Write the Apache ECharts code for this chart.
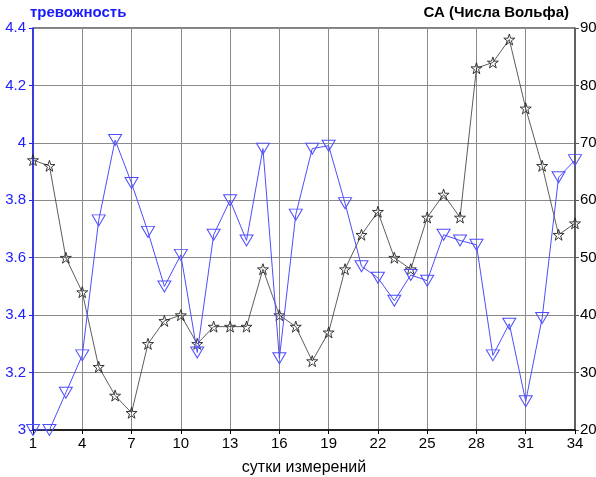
<!DOCTYPE html>
<html>
<head>
<meta charset="utf-8">
<script src="https://cdn.jsdelivr.net/npm/echarts@6/dist/echarts.min.js"></script>
<style>
  html, body { margin: 0; padding: 0; background: #fff; }
  #chart { width: 596px; height: 477px; }
</style>
</head>
<body>
<div id="chart"></div>
<script>
// Days of measurement
const days = [1, 2, 3, 4, 5, 6, 7, 8, 9, 10, 11, 12, 13, 14, 15, 16, 17,
              18, 19, 20, 21, 22, 23, 24, 25, 26, 27, 28, 29, 30, 31, 32, 33, 34];

// Anxiety level (left axis)
const anxiety = [3.00, 3.00, 3.13, 3.26, 3.73, 4.01, 3.86, 3.69, 3.50, 3.61,
                 3.27, 3.68, 3.80, 3.66, 3.98, 3.25, 3.75, 3.98, 3.99, 3.79,
                 3.57, 3.53, 3.45, 3.54, 3.52, 3.68, 3.66, 3.645, 3.26, 3.37,
                 3.10, 3.39, 3.88, 3.94];

// Solar activity, Wolf numbers (right axis)
const wolf = [67, 66, 50, 44, 31, 26, 23, 35, 39, 40, 35, 38, 38, 38, 48, 40, 38,
              32, 37, 48, 54, 58, 50, 48, 57, 61, 57, 83, 84, 88, 76, 66, 54, 56];

const FONT = '"Liberation Sans", Arial, sans-serif';
const BLUE = '#4d4dff';
const starPath = 'path://M100,0 L122.45,69.1 L195.1,69.1 L136.33,111.8 L158.8,180.9 L100,138.2 L41.2,180.9 L63.67,111.8 L4.9,69.1 L77.55,69.1 Z';
const triPath = 'path://M0,0 L100,0 L50,86 Z';

const chart = echarts.init(document.getElementById('chart'), null, { renderer: 'canvas' });
chart.setOption({
  animation: false,
  backgroundColor: '#fff',
  title: [
    { text: 'тревожность', left: 25, top: 0,
      textStyle: { color: '#1a1aff', fontSize: 15, fontWeight: 'bold', fontFamily: FONT } },
    { text: 'СА (Числа Вольфа)', right: 22, top: 0,
      textStyle: { color: '#000', fontSize: 15, fontWeight: 'bold', fontFamily: FONT } }
  ],
  grid: { left: 33, right: 21, top: 28, bottom: 47, show: true,
          outerBoundsMode: 'none', containLabel: false,
          borderColor: '#000', borderWidth: 1, backgroundColor: 'transparent' },
  xAxis: {
    type: 'category',
    data: days,
    boundaryGap: false,
    name: 'сутки измерений',
    nameLocation: 'middle',
    nameGap: 30,
    nameTextStyle: { color: '#000', fontSize: 16, fontFamily: FONT },
    axisLine: { lineStyle: { color: '#000', width: 1.5 } },
    axisTick: { interval: 2, length: 4, inside: false, lineStyle: { color: '#000' } },
    axisLabel: { interval: 2, color: '#000', fontSize: 15, fontFamily: FONT, margin: 6 },
    splitLine: { show: true, interval: 2, lineStyle: { color: '#8a8a8a', width: 1 } }
  },
  yAxis: [
    {
      type: 'value', min: 3, max: 4.4, interval: 0.2, position: 'left',
      axisLine: { show: true, lineStyle: { color: '#2020ff', width: 1.5 } },
      axisTick: { show: true, length: 4, lineStyle: { color: '#2020ff' } },
      axisLabel: { color: '#2020ff', fontSize: 15, fontFamily: FONT, margin: 7 },
      splitLine: { show: true, lineStyle: { color: '#8a8a8a', width: 1 } }
    },
    {
      type: 'value', min: 20, max: 90, interval: 10, position: 'right',
      axisLine: { show: true, lineStyle: { color: '#555', width: 1.5 } },
      axisTick: { show: true, length: 4, lineStyle: { color: '#555' } },
      axisLabel: { color: '#000', fontSize: 15, fontFamily: FONT, margin: 5 },
      splitLine: { show: false }
    }
  ],
  series: [
    {
      name: 'СА (Числа Вольфа)',
      type: 'line',
      yAxisIndex: 1,
      data: wolf,
      symbol: starPath,
      symbolSize: [11, 11],
      showAllSymbol: true,
      lineStyle: { color: '#333', width: 0.8 },
      itemStyle: { color: 'rgba(0,0,0,0)', borderColor: '#222', borderWidth: 0.9 },
      z: 3
    },
    {
      name: 'тревожность',
      type: 'line',
      yAxisIndex: 0,
      data: anxiety,
      symbol: triPath,
      symbolSize: [13, 11],
      showAllSymbol: true,
      lineStyle: { color: BLUE, width: 1 },
      itemStyle: { color: 'rgba(0,0,0,0)', borderColor: BLUE, borderWidth: 1 },
      z: 4
    }
  ]
});
</script>
</body>
</html>
